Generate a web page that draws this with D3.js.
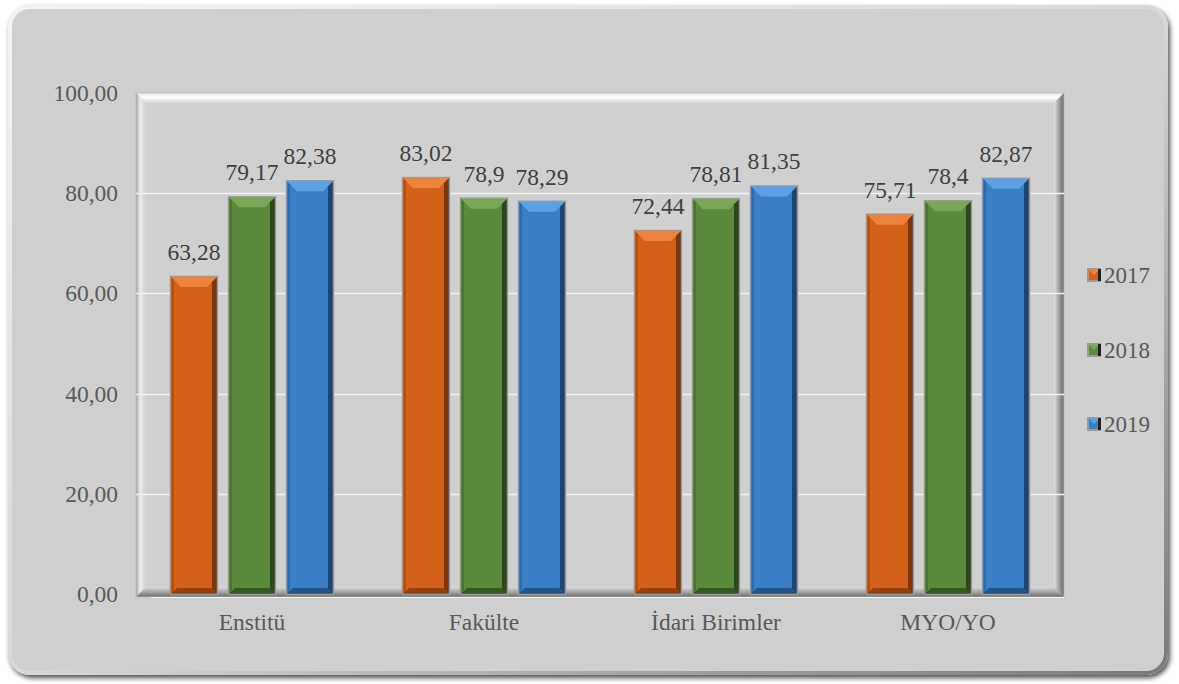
<!DOCTYPE html>
<html>
<head>
<meta charset="utf-8">
<script src="https://cdn.jsdelivr.net/npm/d3@7"></script>
<style>
html,body{margin:0;padding:0;background:#ffffff;}
svg{display:block;}
</style>
</head>
<body>
<svg id="chart" width="1179" height="684"></svg>
<script>
const categories = ["Enstitü", "Fakülte", "İdari Birimler", "MYO/YO"];
const years = ["2017", "2018", "2019"];
const values2017 = [63.28, 83.02, 72.44, 75.71];
const values2018 = [79.17, 78.9, 78.81, 78.4];
const values2019 = [82.38, 78.29, 81.35, 82.87];
const labels2017 = ["63,28", "83,02", "72,44", "75,71"];
const labels2018 = ["79,17", "78,9", "78,81", "78,4"];
const labels2019 = ["82,38", "78,29", "81,35", "82,87"];
const yTicks = [0, 20, 40, 60, 80, 100];
const yTickLabels = ["0,00", "20,00", "40,00", "60,00", "80,00", "100,00"];

const seriesValues = [values2017, values2018, values2019];
const seriesLabels = [labels2017, labels2018, labels2019];
const colors = {
  "2017": {base:"#d4611a", light:"#ec8440", dark:"#7e3507", side:"#b24f12"},
  "2018": {base:"#5a8a3b", light:"#78a857", dark:"#2b4719", side:"#4a7430"},
  "2019": {base:"#3a7fc6", light:"#5fa0e4", dark:"#1a4576", side:"#2f6aa8"}
};

const svg = d3.select("#chart");
const defs = svg.append("defs");
const font = "'Liberation Serif','Times New Roman',serif";

// shadow filter for outer panel
const f = defs.append("filter").attr("id","shadow").attr("x","-5%").attr("y","-5%").attr("width","110%").attr("height","115%");
f.append("feGaussianBlur").attr("in","SourceAlpha").attr("stdDeviation",2.5);
f.append("feOffset").attr("dx",2).attr("dy",3).attr("result","ob");
f.append("feComponentTransfer").append("feFuncA").attr("type","linear").attr("slope",0.7);
const fm = f.append("feMerge");
fm.append("feMergeNode");
fm.append("feMergeNode").attr("in","SourceGraphic");

// outer rounded panel
svg.append("rect").attr("x",8).attr("y",5).attr("width",1160).attr("height",670)
  .attr("rx",22).attr("ry",22).attr("fill","#cfcfcf").attr("filter","url(#shadow)");
const pg = defs.append("linearGradient").attr("id","panelEdge").attr("x1","0").attr("y1","0").attr("x2","1").attr("y2","1");
pg.append("stop").attr("offset","0").attr("stop-color","#f4f4f4");
pg.append("stop").attr("offset","0.5").attr("stop-color","#d8d8d8");
pg.append("stop").attr("offset","1").attr("stop-color","#7a7a7a");
svg.append("rect").attr("x",10).attr("y",7).attr("width",1156).attr("height",666)
  .attr("rx",20).attr("ry",20).attr("fill","none").attr("stroke","url(#panelEdge)").attr("stroke-width",4);

// scales
const plot = {x0:136, x1:1064, y0:93, y1:594};
const x = d3.scaleBand().domain(categories).range([plot.x0, plot.x1]).paddingInner(0).paddingOuter(0);
const xs = d3.scaleBand().domain(years).range([0, x.bandwidth()]).paddingInner(0.207).paddingOuter(0.603);
const y = d3.scaleLinear().domain([0,100]).range([plot.y1, plot.y0]);

// plot area 3D frame
const bw = 10;
const fx0 = plot.x0, fx1 = plot.x1, fy0 = plot.y0, fy1 = plot.y1 + 3;
const gFrame = svg.append("g");
gFrame.append("rect").attr("x",fx0).attr("y",fy0).attr("width",fx1-fx0).attr("height",fy1-fy0).attr("fill","#d0d0d0");
function grad(id, x1,y1,x2,y2, stops){
  const g = defs.append("linearGradient").attr("id",id).attr("x1",x1).attr("y1",y1).attr("x2",x2).attr("y2",y2);
  stops.forEach(s=>g.append("stop").attr("offset",s[0]).attr("stop-color",s[1]));
}
grad("fTop","0","0","0","1",[[0,"#e6e6e6"],[0.45,"#ffffff"],[1,"#d6d6d6"]]);
grad("fLeft","0","0","1","0",[[0,"#a0a0a0"],[0.4,"#ececec"],[1,"#d0d0d0"]]);
grad("fRight","0","0","1","0",[[0,"#e0e0e0"],[0.5,"#a0a0a0"],[1,"#6a6a6a"]]);
grad("fBottom","0","0","0","1",[[0,"#d8d8d8"],[0.5,"#a5a5a5"],[1,"#6a6a6a"]]);
const poly = (pts)=>pts.map(p=>p.join(",")).join(" ");
gFrame.append("polygon").attr("points",poly([[fx0,fy0],[fx1,fy0],[fx1-bw,fy0+bw],[fx0+bw,fy0+bw]])).attr("fill","url(#fTop)");
gFrame.append("polygon").attr("points",poly([[fx0,fy0],[fx0+bw,fy0+bw],[fx0+bw,fy1-bw],[fx0,fy1]])).attr("fill","url(#fLeft)");
gFrame.append("polygon").attr("points",poly([[fx1,fy0],[fx1,fy1],[fx1-bw,fy1-bw],[fx1-bw,fy0+bw]])).attr("fill","url(#fRight)");
gFrame.append("polygon").attr("points",poly([[fx0,fy1],[fx0+bw,fy1-bw],[fx1-bw,fy1-bw],[fx1,fy1]])).attr("fill","url(#fBottom)");
gFrame.append("rect").attr("x",fx0).attr("y",fy0).attr("width",fx1-fx0).attr("height",fy1-fy0)
  .attr("fill","none").attr("stroke","#b8b8b8").attr("stroke-width",0.8);

// gridlines
svg.append("g").selectAll("line").data(yTicks.filter(t=>t>0 && t<100)).join("line")
  .attr("x1",plot.x0).attr("x2",plot.x1)
  .attr("y1",d=>Math.round(y(d))+0.5).attr("y2",d=>Math.round(y(d))+0.5)
  .attr("stroke","#f2f2f2").attr("stroke-width",1.5);
svg.append("line").attr("x1",plot.x0+15).attr("x2",plot.x1).attr("y1",fy1+0.5).attr("y2",fy1+0.5)
  .attr("stroke","#f0f0f0").attr("stroke-width",1);

// y axis labels
const yAxis = d3.axisLeft(y).tickValues(yTicks).tickFormat((d,i)=>yTickLabels[i]).tickSize(0).tickPadding(0);
const gy = svg.append("g").attr("transform",`translate(118,0)`).call(yAxis);
gy.select(".domain").remove();
gy.selectAll("text").attr("font-family",font).attr("font-size",23.5).attr("fill","#595959").attr("dy","0.32em");

// x axis labels
const xAxis = d3.axisBottom(x).tickSize(0).tickPadding(0);
const gx = svg.append("g").attr("transform",`translate(0,613)`).call(xAxis);
gx.select(".domain").remove();
gx.selectAll("text").attr("font-family",font).attr("font-size",23.5).attr("fill","#595959").attr("dy","0.71em");

// bars
const bars = [];
categories.forEach((c,ci)=>{
  years.forEach((yr,si)=>{
    bars.push({cat:c, year:yr, value:seriesValues[si][ci], label:seriesLabels[si][ci]});
  });
});
const gBars = svg.append("g");
const bev = 10;
bars.forEach(d=>{
  const bx = x(d.cat) + xs(d.year), bwid = xs.bandwidth();
  const by = y(d.value), bh = y(0) - y(d.value);
  const c = colors[d.year];
  const g = gBars.append("g");
  g.append("rect").attr("x",bx).attr("y",by).attr("width",bwid).attr("height",bh).attr("fill",c.base);
  g.append("polygon").attr("points",poly([[bx,by],[bx+bwid,by],[bx+bwid-bev,by+bev],[bx+bev,by+bev]])).attr("fill",c.light);
  g.append("polygon").attr("points",poly([[bx,by],[bx+3,by+3],[bx+3,by+bh-3],[bx,by+bh]])).attr("fill",c.side);
  g.append("polygon").attr("points",poly([[bx+bwid,by],[bx+bwid,by+bh],[bx+bwid-5,by+bh-5],[bx+bwid-5,by+5]])).attr("fill",c.dark);
  g.append("polygon").attr("points",poly([[bx,by+bh],[bx+bwid,by+bh],[bx+bwid-6,by+bh-6],[bx+6,by+bh-6]])).attr("fill",c.dark).attr("opacity",0.75);
  g.append("rect").attr("x",bx-0.5).attr("y",by-0.5).attr("width",bwid+1).attr("height",bh+1)
    .attr("fill","none").attr("stroke","#9a9a9a").attr("stroke-width",1.5);
  g.append("text").attr("x",bx+bwid/2).attr("y",by-17).attr("text-anchor","middle")
    .attr("font-family",font).attr("font-size",23.5).attr("fill","#404040").text(d.label);
});

// legend
const legendY = [275, 350, 424];
const gl = svg.append("g");
years.forEach((yr,i)=>{
  const c = colors[yr];
  const lx = 1087, ly = legendY[i]-7, s = 14;
  const g = gl.append("g");
  g.append("rect").attr("x",lx).attr("y",ly).attr("width",s).attr("height",s).attr("fill","#9a9a9a");
  g.append("rect").attr("x",lx+2).attr("y",ly+2).attr("width",s-4).attr("height",s-4).attr("fill",c.base);
  g.append("polygon").attr("points",poly([[lx+2,ly+2],[lx+s-2,ly+2],[lx+s/2,ly+s/2]])).attr("fill",c.light);
  g.append("rect").attr("x",lx+s-3).attr("y",ly+1).attr("width",3).attr("height",s-2).attr("fill","#202020");
  g.append("text").attr("x",lx+s+3).attr("y",legendY[i]).attr("dy","0.35em")
    .attr("font-family",font).attr("font-size",23).attr("fill","#595959").text(yr);
});
</script>
</body>
</html>
